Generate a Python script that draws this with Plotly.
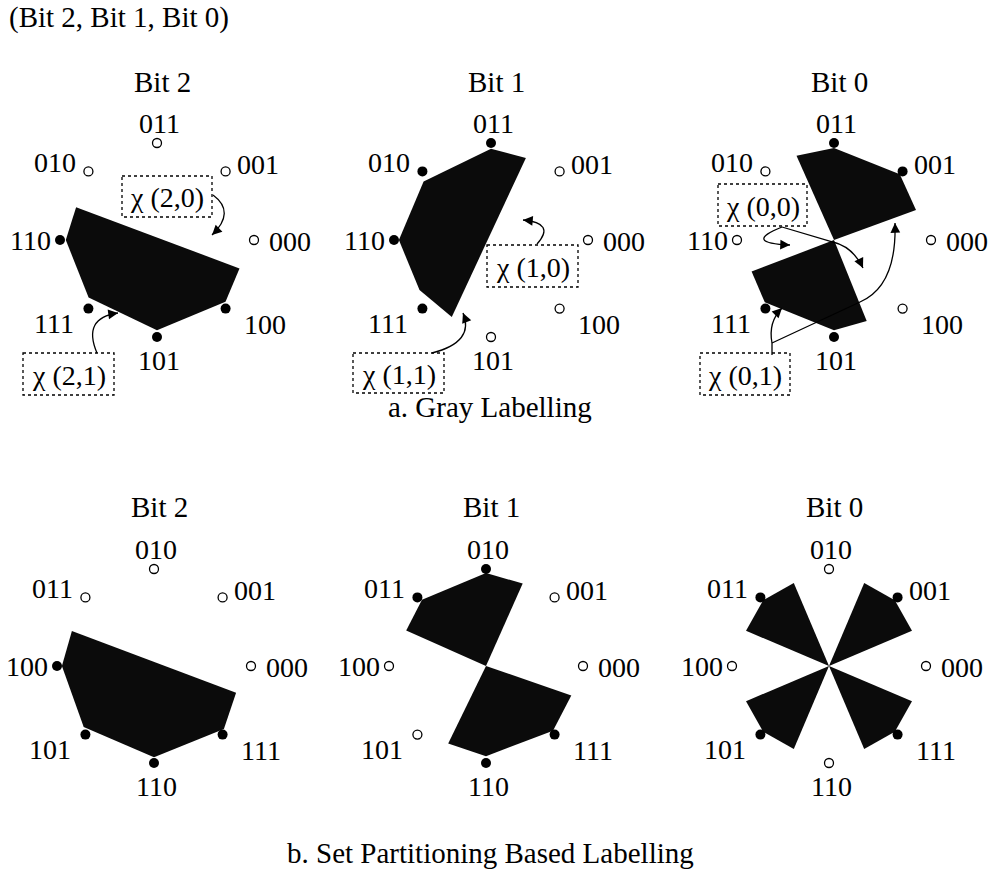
import math
import plotly.graph_objects as go

# ---------------- data ----------------
HEADER = "(Bit 2, Bit 1, Bit 0)"
CAPTIONS = ["a. Gray Labelling", "b. Set Partitioning Based Labelling"]
BIT_TITLES = ["Bit 2", "Bit 1", "Bit 0"]
BIT_INDEX = [2, 1, 0]                       # position of the bit inside the label (from right)
ANGLES_DEG = [0, 45, 90, 135, 180, 225, 270, 315]
GRAY_LABELS = ["000", "001", "011", "010", "110", "111", "101", "100"]
SP_LABELS = ["000", "001", "010", "011", "100", "101", "110", "111"]

C = "C"  # centre of the constellation
# decision regions where the bit equals 1: vertices (angle deg, radius fraction)
GRAY_REGIONS = [
    [[(158, .90), (180, .94), (220, .92), (270, .93), (318, .95), (341, .90)]],
    [[(90, .94), (67, .92), (243, .89), (215, .90), (180, .95), (139, .92)]],
    [[C, (114, .95), (90, .95), (45, .96), (20, .90)],
     [C, (201, .91), (222, .96), (270, .93), (292, .90)]],
]
SP_REGIONS = [
    [[(157, .92), (180, .95), (221, .96), (270, .94), (318, .97), (342, .89)]],
    [[C, (156, .90), (134, .95), (90, .96), (66, .93)],
     [C, (341, .93), (316, .96), (270, .93), (244, .89)]],
    [[C, (23, .93), (45, .96), (67, .93)],
     [C, (113, .93), (135, .96), (157, .93)],
     [C, (203, .93), (225, .96), (247, .93)],
     [C, (293, .93), (315, .96), (337, .93)]],
]

# chi boxes (text, box) for the Gray row
CHI_TEXT = ["χ (2,0)", "χ (2,1)", "χ (1,0)", "χ (1,1)", "χ (0,0)", "χ (0,1)"]
CHI_BOX = [(122, 176, 212, 217), (23, 353, 114, 395), (487, 245, 578, 287),
           (353, 353, 444, 393), (718, 184, 807, 226), (700, 353, 790, 395)]
# arrows: start point then segments (control or None, end)
ARROWS = [
    [(213, 195), [((236, 212), (212, 235))]],
    [(97, 353), [((82, 318), (118, 313))]],
    [(537, 244), [((556, 223), (523, 220))]],
    [(432, 353), [((475, 342), (463, 313))]],
    [(782, 227), [((742, 243), (790, 245))]],
    [(782, 227), [(None, (833, 242)), ((853, 247), (863, 268))]],
    [(772, 355), [(None, (772, 343)), ((768, 322), (782, 308))]],
    [(772, 343), [(None, (860, 302)), ((897, 286), (895, 223))]],
]

# ---------------- layout constants ----------------
W, H = 990, 876
R = 97
ROW_CY = [240, 666]
COL_CX = [[157, 491, 834], [154, 486, 829]]
TITLE_Y = [82, 507]
CAPTION_POS = [(490, 407), (490, 853)]
FONT = "Liberation Serif, Times New Roman, serif"
FS_LABEL = 28
FS_TEXT = 29
LABEL_OFF = {0: (13, 1, "left"), 45: (9, -7, "left"), 90: (2, -20, "center"),
             135: (-10, -9, "right"), 180: (-7, 0, "right"), 225: (-12, 15, "right"),
             270: (2, 23, "center"), 315: (16, 16, "left")}

fig = go.Figure()
shapes, annos = [], []


def pt(cx, cy, ang, rf=1.0):
    a = math.radians(ang)
    return cx + R * rf * math.cos(a), cy - R * rf * math.sin(a)


for row, (labels, regions) in enumerate([(GRAY_LABELS, GRAY_REGIONS), (SP_LABELS, SP_REGIONS)]):
    cy = ROW_CY[row]
    for col in range(3):
        cx = COL_CX[row][col]
        bit = BIT_INDEX[col]
        for poly in regions[col]:
            pts = [(cx, cy) if v == C else pt(cx, cy, v[0], v[1]) for v in poly]
            path = "M " + " L ".join(f"{x:.1f},{y:.1f}" for x, y in pts) + " Z"
            shapes.append(dict(type="path", path=path, xref="x", yref="y",
                               fillcolor="#0b0b0b", line=dict(width=0), layer="below"))
        fx, fy, ox, oy = [], [], [], []
        for ang, lab in zip(ANGLES_DEG, labels):
            x, y = pt(cx, cy, ang)
            if lab[2 - bit] == "1":
                fx.append(x); fy.append(y)
            else:
                ox.append(x); oy.append(y)
            dx, dy, anc = LABEL_OFF[ang]
            annos.append(dict(x=x + dx, y=y + dy, text=lab, showarrow=False,
                              xanchor=anc, yanchor="middle",
                              font=dict(family=FONT, size=FS_LABEL, color="black")))
        fig.add_trace(go.Scatter(x=fx, y=fy, mode="markers", hoverinfo="skip",
                                 marker=dict(size=10, color="black")))
        fig.add_trace(go.Scatter(x=ox, y=oy, mode="markers", hoverinfo="skip",
                                 marker=dict(size=9, color="white",
                                             line=dict(color="black", width=1.3))))
        annos.append(dict(x=cx + 5, y=TITLE_Y[row], text=BIT_TITLES[col], showarrow=False,
                          xanchor="center", yanchor="middle",
                          font=dict(family=FONT, size=FS_TEXT, color="black")))

for txt, (x0, y0, x1, y1) in zip(CHI_TEXT, CHI_BOX):
    shapes.append(dict(type="rect", x0=x0, y0=y0, x1=x1, y1=y1, xref="x", yref="y",
                       line=dict(color="black", width=1.3, dash="dot"), fillcolor="rgba(0,0,0,0)"))
    annos.append(dict(x=(x0 + x1) / 2, y=(y0 + y1) / 2 + 1, text=txt, showarrow=False,
                      xanchor="center", yanchor="middle",
                      font=dict(family=FONT, size=28, color="black")))

for start, segs in ARROWS:
    path = f"M {start[0]},{start[1]}"
    for ctrl, end in segs:
        if ctrl is None:
            path += f" L {end[0]},{end[1]}"
        else:
            path += f" Q {ctrl[0]},{ctrl[1]} {end[0]},{end[1]}"
    shapes.append(dict(type="path", path=path, xref="x", yref="y",
                       line=dict(color="black", width=1.3)))
    ctrl, (tx, ty) = segs[-1]
    if ctrl is None:
        ctrl = segs[-2][1] if len(segs) > 1 else start
    vx, vy = tx - ctrl[0], ty - ctrl[1]
    n = math.hypot(vx, vy) or 1
    annos.append(dict(x=tx, y=ty, ax=tx - 6 * vx / n, ay=ty - 6 * vy / n,
                      xref="x", yref="y", axref="x", ayref="y", text="",
                      showarrow=True, arrowhead=2, arrowsize=1.5, arrowwidth=1.3,
                      arrowcolor="black", standoff=0))

annos.append(dict(x=7, y=17, text=HEADER, showarrow=False, xanchor="left", yanchor="middle",
                  font=dict(family=FONT, size=FS_TEXT, color="black")))
for txt, (x, y) in zip(CAPTIONS, CAPTION_POS):
    annos.append(dict(x=x, y=y, text=txt, showarrow=False, xanchor="center", yanchor="middle",
                      font=dict(family=FONT, size=FS_TEXT, color="black")))

fig.update_layout(
    width=W, height=H, margin=dict(l=0, r=0, t=0, b=0),
    paper_bgcolor="white", plot_bgcolor="white", showlegend=False,
    xaxis=dict(range=[0, W], visible=False, fixedrange=True),
    yaxis=dict(range=[H, 0], visible=False, fixedrange=True),
    shapes=shapes, annotations=annos,
)
fig.write_html("out.html", config={"displayModeBar": False, "staticPlot": True},
               post_script="document.body.style.margin='0';document.body.style.overflow='hidden';")
